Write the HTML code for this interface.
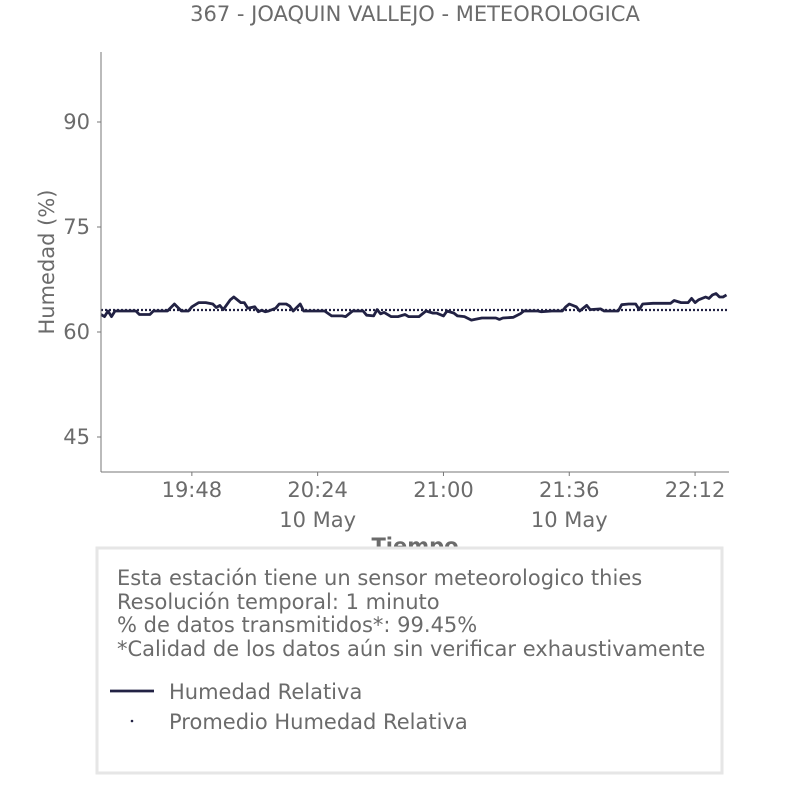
<!DOCTYPE html>
<html><head><meta charset="utf-8"><style>
html,body{margin:0;padding:0;background:#fff;}
svg{display:block;font-family:"DejaVu Sans","Liberation Sans",sans-serif;}
</style></head><body>
<svg id="chart" width="806" height="806" viewBox="0 0 806 806">
<text x="415" y="21" text-anchor="middle" font-size="21" fill="#6b6b6b">367 - JOAQUIN VALLEJO - METEOROLOGICA</text>
<g id="yticks"></g>
<g id="xticks"></g>
<text transform="translate(54,262) rotate(-90)" text-anchor="middle" font-size="21" fill="#6b6b6b">Humedad (%)</text>
<g id="series"></g>
<line x1="101" y1="52" x2="101" y2="472" stroke="#777" stroke-width="1"/>
<line x1="101" y1="472" x2="729" y2="472" stroke="#777" stroke-width="1"/>
<text x="415" y="553" text-anchor="middle" font-size="21" font-weight="bold" fill="#6b6b6b">Tiempo</text>
<rect x="97" y="548" width="625" height="225" fill="#fff" stroke="#e6e6e6" stroke-width="3"/>
<g font-size="21" fill="#6b6b6b">
<text x="117" y="585">Esta estación tiene un sensor meteorologico thies</text>
<text x="117" y="609">Resolución temporal: 1 minuto</text>
<text x="117" y="632">% de datos transmitidos*: 99.45%</text>
<text x="117" y="656">*Calidad de los datos aún sin verificar exhaustivamente</text>
</g>
<g>
<line x1="110" y1="691" x2="154" y2="691" stroke="#222244" stroke-width="2.8"/>
<text x="169" y="699" font-size="21" fill="#6b6b6b">Humedad Relativa</text>
<circle cx="132" cy="721" r="1.3" fill="#222244"/>
<text x="169" y="729" font-size="21" fill="#6b6b6b">Promedio Humedad Relativa</text>
</g>
</svg>
<script>
const times=["19:22","19:23","19:24","19:25","19:26","19:32","19:33","19:36","19:37","19:41","19:43","19:45","19:47","19:48","19:50","19:52","19:54","19:55","19:56","19:57","19:59","20:00","20:02","20:03","20:04","20:06","20:07","20:08","20:09","20:10","20:12","20:13","20:15","20:16","20:17","20:19","20:20","20:24","20:26","20:28","20:31","20:32","20:34","20:37","20:38","20:40","20:41","20:42","20:43","20:45","20:47","20:49","20:50","20:53","20:55","20:57","20:58","21:00","21:01","21:03","21:04","21:06","21:08","21:09","21:11","21:15","21:16","21:17","21:20","21:22","21:23","21:27","21:28","21:31","21:34","21:35","21:36","21:38","21:39","21:41","21:42","21:45","21:46","21:50","21:51","21:53","21:55","21:56","21:57","22:00","22:05","22:06","22:08","22:10","22:11","22:12","22:13","22:15","22:16","22:17","22:18","22:19","22:20","22:21"];
const humidity=[62.5,62.2,63.0,62.2,63.0,63.0,62.5,62.5,63.0,63.0,64.0,63.0,63.0,63.6,64.2,64.2,64.0,63.5,63.8,63.2,64.6,65.0,64.2,64.2,63.4,63.6,62.9,63.1,62.9,63.0,63.4,64.0,64.0,63.7,63.0,64.0,63.0,63.0,63.0,62.3,62.3,62.2,63.0,63.0,62.4,62.3,63.2,62.6,62.8,62.2,62.2,62.5,62.2,62.2,63.0,62.7,62.7,62.3,63.0,62.7,62.3,62.2,61.7,61.8,62.0,62.0,61.8,62.0,62.1,62.6,63.0,63.0,62.9,63.0,63.0,63.6,64.0,63.6,63.0,63.8,63.2,63.3,63.0,63.0,63.9,64.0,64.0,63.2,64.0,64.1,64.1,64.5,64.2,64.2,64.8,64.2,64.6,65.0,64.8,65.3,65.5,65.0,65.0,65.3];
const meanValue=[63.14];
const yTicks=[45,60,75,90];
const xTickLabels=["19:48","20:24","21:00","21:36","22:12"];
const xDateLabels=["","10 May","","10 May",""];

const NS="http://www.w3.org/2000/svg";
const toMin=t=>{const p=t.split(":");return +p[0]*60+ +p[1];};
const X0=101,X1=729,Y0=52,Y1=472,YMIN=40,YMAX=100;
const xMinT=toMin("19:48")-26, xMaxT=toMin("22:12")+9.71;
const xs=t=>X0+(toMin(t)-xMinT)/(xMaxT-xMinT)*(X1-X0);
const ys=v=>Y1-(v-YMIN)/(YMAX-YMIN)*(Y1-Y0);
function mk(tag,attrs,parent){const e=document.createElementNS(NS,tag);for(const k in attrs)e.setAttribute(k,attrs[k]);parent.appendChild(e);return e;}

const yg=document.getElementById("yticks");
yTicks.forEach(v=>{
  const y=ys(v);
  const tk=mk("line",{x1:97,x2:101,y1:y,y2:y,stroke:"#777"},yg);
  
  
  const t=mk("text",{x:90,y:y+7,"text-anchor":"end","font-size":21,fill:"#6b6b6b"},yg);
  
  
  t.textContent=v;
});
const xg=document.getElementById("xticks");
xTickLabels.forEach((lab,i)=>{
  const x=xs(lab);
  const tk=mk("line",{x1:x,x2:x,y1:472,y2:476,stroke:"#777"},xg);
  
  
  const t=mk("text",{x:x,y:497,"text-anchor":"middle","font-size":21,fill:"#6b6b6b"},xg);
  
  
  t.textContent=lab;
  if(xDateLabels[i]){
    const d=mk("text",{x:x,y:527,"text-anchor":"middle","font-size":21,fill:"#6b6b6b"},xg);
    
    
    d.textContent=xDateLabels[i];
  }
});
const sg=document.getElementById("series");
const ym=ys(meanValue[0]);
const ml=mk("line",{x1:X0,x2:X1,y1:ym,y2:ym,stroke:"#222244","stroke-width":2.2,"stroke-dasharray":"2 2"},sg);


const pts=times.map((t,i)=>xs(t).toFixed(1)+","+ys(humidity[i]).toFixed(1)).join(" ");
const pl=mk("polyline",{points:pts,fill:"none",stroke:"#222244","stroke-width":2.8,"stroke-linejoin":"round"},sg);


</script>
</body></html>
